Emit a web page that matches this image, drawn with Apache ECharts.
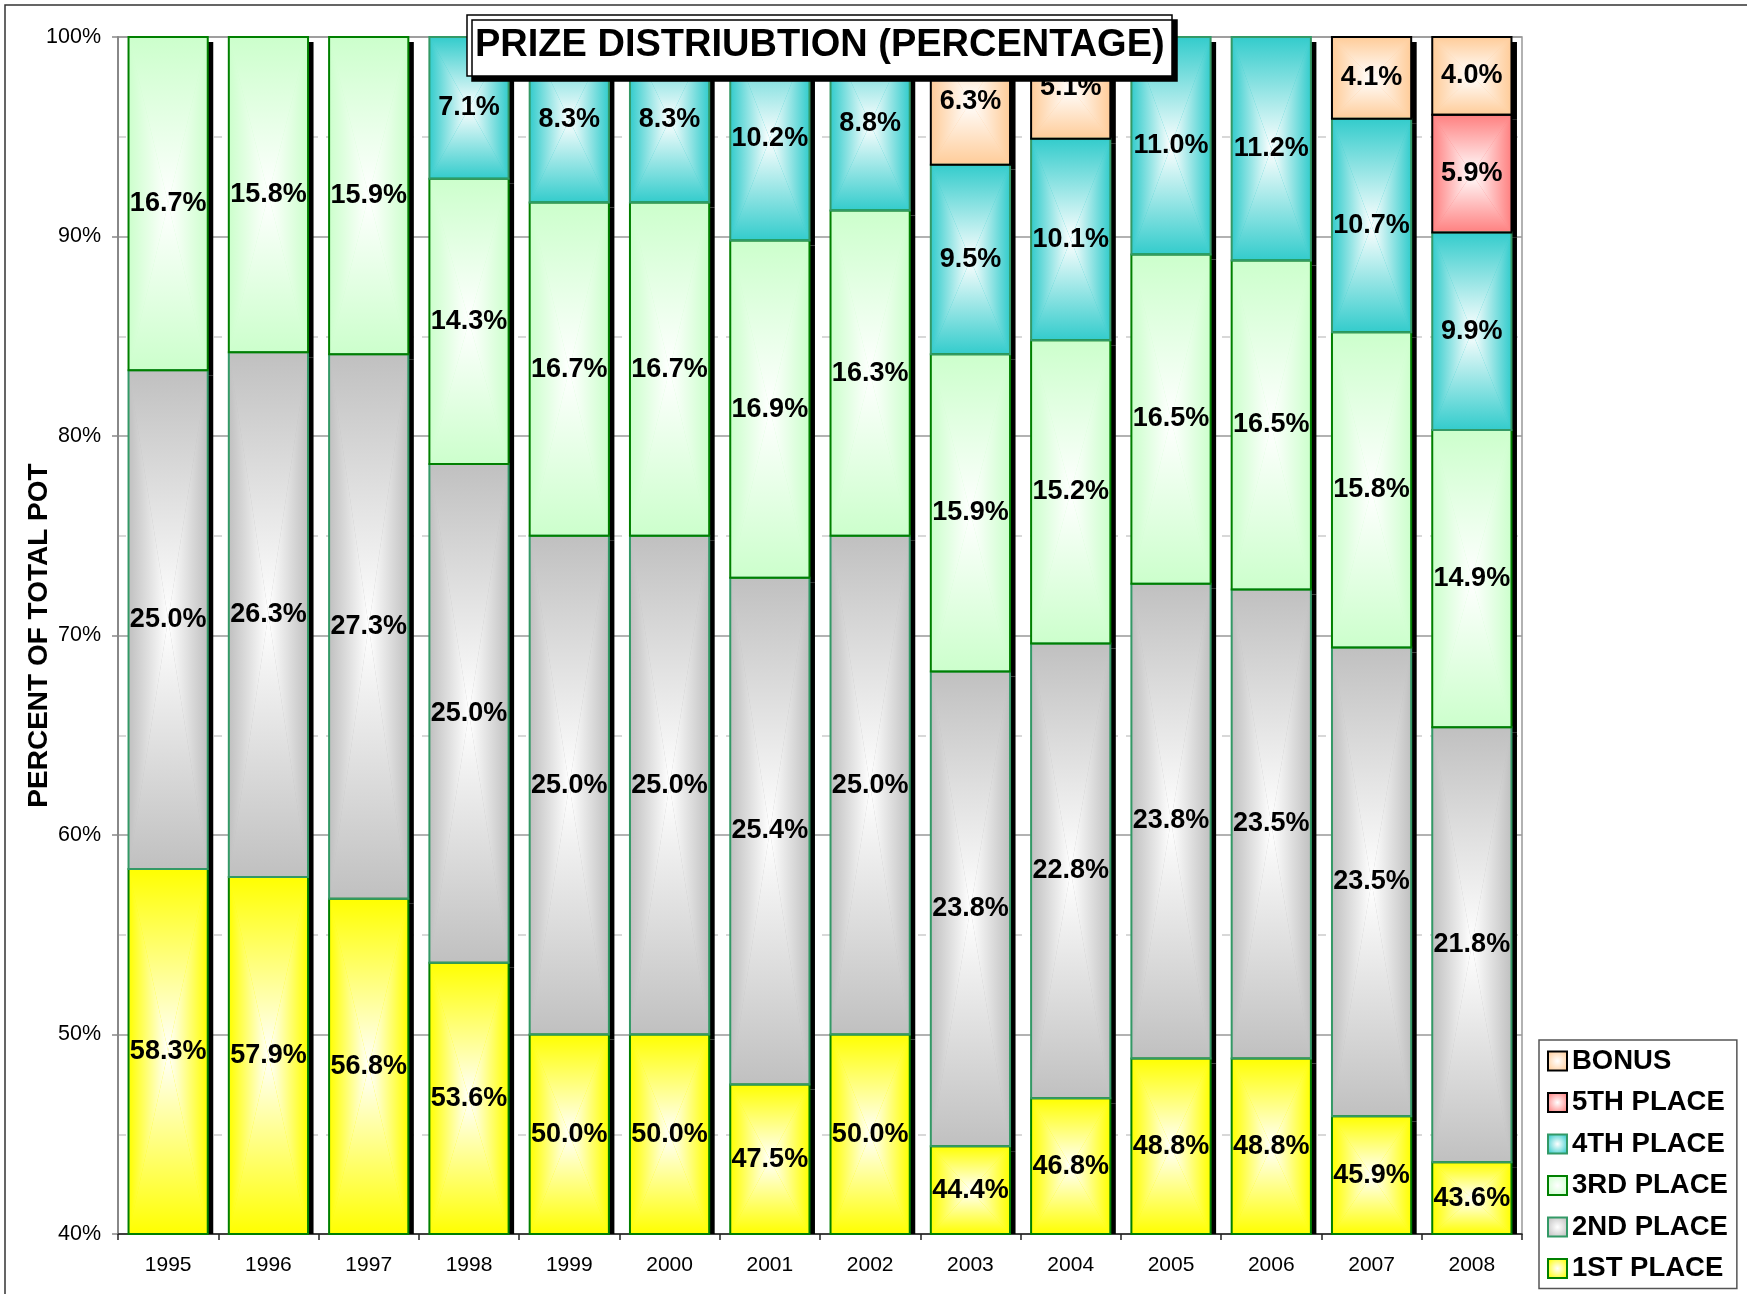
<!DOCTYPE html>
<html lang="en">
<head>
<meta charset="UTF-8">
<title>Prize Distribution (Percentage)</title>
<script src="https://cdn.jsdelivr.net/npm/echarts@6.0.0/dist/echarts.min.js"></script>
<style>
  body { margin: 0; padding: 0; background: #fff; }
  #chart { width: 1747px; height: 1294px; }
</style>
</head>
<body>
<div id="chart"></div>
<script>
// categories
const years = ['1995', '1996', '1997', '1998', '1999', '2000', '2001',
               '2002', '2003', '2004', '2005', '2006', '2007', '2008'];

// series values (percent of total pot), bottom to top
const first  = [58.3, 57.9, 56.8, 53.6, 50.0, 50.0, 47.5, 50.0, 44.4, 46.8, 48.8, 48.8, 45.9, 43.6];
const second = [25.0, 26.3, 27.3, 25.0, 25.0, 25.0, 25.4, 25.0, 23.8, 22.8, 23.8, 23.5, 23.5, 21.8];
const third  = [16.7, 15.8, 15.9, 14.3, 16.7, 16.7, 16.9, 16.3, 15.9, 15.2, 16.5, 16.5, 15.8, 14.9];
const fourth = [null, null, null, 7.1, 8.3, 8.3, 10.2, 8.8, 9.5, 10.1, 11.0, 11.2, 10.7, 9.9];
const fifth  = [null, null, null, null, null, null, null, null, null, null, null, null, null, 5.9];
const bonus  = [null, null, null, null, null, null, null, null, 6.3, 5.1, null, null, 4.1, 4.0];

const seriesNames = ['1ST PLACE', '2ND PLACE', '3RD PLACE', '4TH PLACE', '5TH PLACE', 'BONUS'];
const seriesValues = [first, second, third, fourth, fifth, bonus];

// styling
const fillColors   = ['#ffff00', '#c0c0c0', '#ccffcc', '#33cccc', '#ff8080', '#ffcc99'];
const borderColors = ['#008000', '#339966', '#008000', '#339966', '#000000', '#000000'];
const Y_MIN = 40, Y_MAX = 100;
const FONT = 'Liberation Sans, Arial, sans-serif';

// stack the values: each item is [category, base, top, value]
const running = years.map(() => 0);
const stacked = seriesValues.map(vals => {
  const out = [];
  vals.forEach((v, i) => {
    if (v == null) return;
    out.push([i, running[i], running[i] + v, v]);
    running[i] += v;
  });
  return out;
});

function lin(x, y, x2, y2, from, to) {
  return { type: 'linear', x: x, y: y, x2: x2, y2: y2,
           colorStops: [{ offset: 0, color: from }, { offset: 1, color: to }] };
}

// bar segment with an excel style "from center" rectangular gradient
function renderItem(params, api) {
  const s = params.seriesIndex;
  const cat = api.value(0);
  const lo = Math.max(api.value(1), Y_MIN);
  const hi = Math.min(api.value(2), Y_MAX);
  if (hi <= lo) return;
  const pb = api.coord([cat, lo]);
  const pt = api.coord([cat, hi]);
  const bw = api.size([1, 0])[0] * 0.79;
  const x0 = pb[0] - bw / 2, x1 = pb[0] + bw / 2;
  const y0 = pt[1], y1 = pb[1];
  const cx = pb[0], cy = (y0 + y1) / 2;
  const cs = params.coordSys;
  const c = fillColors[s];
  const W = '#ffffff';

  const shadowTop = y0 + 5;
  const shadowBottom = Math.min(y1 + 5, cs.y + cs.height);

  return {
    type: 'group',
    children: [
      { type: 'rect', z2: 0,
        shape: { x: x1, y: shadowTop, width: 5.5, height: Math.max(0, shadowBottom - shadowTop) },
        style: { fill: '#000' } },
      { type: 'rect', z2: 1,
        shape: { x: x0, y: y0, width: bw, height: y1 - y0 },
        style: { fill: c } },
      { type: 'polygon', z2: 2,
        shape: { points: [[x0, y0], [x1, y0], [cx, cy]] },
        style: { fill: lin(0, 0, 0, 1, c, W) } },
      { type: 'polygon', z2: 2,
        shape: { points: [[x0, y1], [x1, y1], [cx, cy]] },
        style: { fill: lin(0, 0, 0, 1, W, c) } },
      { type: 'polygon', z2: 2,
        shape: { points: [[x0, y0], [x0, y1], [cx, cy]] },
        style: { fill: lin(0, 0, 1, 0, c, W) } },
      { type: 'polygon', z2: 2,
        shape: { points: [[x1, y0], [x1, y1], [cx, cy]] },
        style: { fill: lin(0, 0, 1, 0, W, c) } },
      { type: 'rect', z2: 3,
        shape: { x: x0, y: y0, width: bw, height: y1 - y0 },
        style: { fill: 'none', stroke: borderColors[s], lineWidth: 2 } },
      { type: 'text', z2: 100, x: cx, y: cy,
        style: { text: api.value(3).toFixed(1) + '%', fill: '#000',
                 fontSize: 27, fontWeight: 'bold', fontFamily: FONT,
                 align: 'center', verticalAlign: 'middle' } }
    ]
  };
}

const chart = echarts.init(document.getElementById('chart'));

const legendOrder = ['BONUS', '5TH PLACE', '4TH PLACE', '3RD PLACE', '2ND PLACE', '1ST PLACE'];

chart.setOption({
  animation: false,
  backgroundColor: '#fff',
  title: {
    text: 'PRIZE DISTRIUBTION (PERCENTAGE)',
    left: 467,
    top: 15,
    padding: [12, 8, 11, 8],
    backgroundColor: '#fff',
    borderColor: '#000',
    borderWidth: 1.5,
    shadowColor: '#000',
    shadowBlur: 0,
    shadowOffsetX: 5,
    shadowOffsetY: 5,
    textStyle: { fontSize: 38, fontWeight: 'bold', color: '#000', fontFamily: FONT }
  },
  legend: {
    orient: 'vertical',
    left: 1539,
    top: 1040,
    padding: [7, 9, 6, 8],
    itemGap: 13.5,
    itemWidth: 19,
    itemHeight: 19,
    itemTextGap: 7,
    icon: 'rect',
    backgroundColor: '#fff',
    borderColor: '#555',
    borderWidth: 1.5,
    textStyle: { fontSize: 27.5, fontWeight: 'bold', color: '#000', fontFamily: FONT },
    data: legendOrder.map(name => {
      const s = seriesNames.indexOf(name);
      return {
        name: name,
        itemStyle: {
          color: { type: 'radial', x: 0.5, y: 0.5, r: 0.6,
                   colorStops: [{ offset: 0, color: '#fff' }, { offset: 1, color: fillColors[s] }] },
          borderColor: borderColors[s],
          borderWidth: 2
        }
      };
    })
  },
  graphic: [{
    type: 'rect', silent: true, z: -10,
    shape: { x: 5, y: 5, width: 1900, height: 1500 },
    style: { fill: 'none', stroke: '#333', lineWidth: 1.5 }
  }],
  grid: {
    left: 118, right: 225, top: 37, bottom: 60,
    show: true, borderColor: '#999', borderWidth: 1.5
  },
  xAxis: {
    type: 'category',
    data: years,
    boundaryGap: true,
    axisLine: { lineStyle: { color: '#222', width: 1.5 } },
    axisTick: { show: true, length: 6, lineStyle: { color: '#222', width: 1.5 } },
    axisLabel: { fontSize: 21, color: '#000', fontFamily: FONT, margin: 21 },
    splitLine: { show: false }
  },
  yAxis: {
    type: 'value',
    min: Y_MIN,
    max: Y_MAX,
    interval: 10,
    name: 'PERCENT OF TOTAL POT',
    nameLocation: 'middle',
    nameGap: 65,
    nameMoveOverlap: false,
    nameTextStyle: { fontSize: 28, fontWeight: 'bold', color: '#000', fontFamily: FONT },
    axisLine: { show: true, lineStyle: { color: '#888', width: 2 } },
    axisTick: { show: true, length: 6, lineStyle: { color: '#888', width: 1.5 } },
    axisLabel: { formatter: '{value}%', fontSize: 21.5, color: '#000', fontFamily: FONT, margin: 17 },
    splitLine: { show: true, lineStyle: { color: '#999', width: 1.5 } },
    minorTick: { show: false, splitNumber: 2 },
    minorSplitLine: { show: true, lineStyle: { color: '#ccc', width: 1.5, type: [8, 8] } }
  },
  series: stacked.map((data, s) => ({
    type: 'custom',
    name: seriesNames[s],
    renderItem: renderItem,
    clip: false,
    encode: { x: 0, y: [1, 2] },
    itemStyle: { color: fillColors[s], borderColor: borderColors[s] },
    data: data
  }))
});

window.addEventListener('resize', () => chart.resize());
</script>
</body>
</html>
